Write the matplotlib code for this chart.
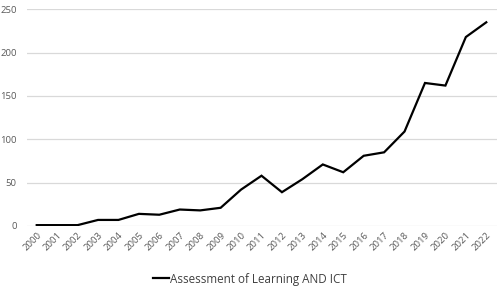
import matplotlib
matplotlib.use("Agg")
import matplotlib.pyplot as plt

# ── Data ──────────────────────────────────────────────────────────────────────
years = [str(y) for y in range(2000, 2023)]
counts = [1, 1, 1, 7, 7, 14, 13, 19, 18, 21, 42, 58, 39, 54, 71, 62,
          81, 85, 109, 165, 162, 218, 235]
series_name = "Assessment of Learning AND ICT"

TXT = "#595959"
LEG_TXT = "#404040"
GRID = "#d9d9d9"

plt.rcParams["font.family"] = ["Open Sans", "DejaVu Sans"]

fig = plt.figure(figsize=(5.0, 2.86), dpi=100)
ax = fig.add_axes([0.053, 0.2098, 0.940, 0.7577])

x = list(range(len(years)))
ax.plot(x, counts, color="black", lw=1.6, label=series_name,
        solid_joinstyle="miter", zorder=3)

ax.set_xlim(-0.5, len(years) - 0.5)
ax.set_ylim(0, 250)
ax.set_yticks(range(0, 251, 50))
ax.set_xticks(x)
ax.set_xticklabels(years, rotation=45, ha="right", rotation_mode="anchor")
ax.tick_params(axis="both", length=0, colors=TXT, labelsize=6.8)
ax.tick_params(axis="y", pad=7)
ax.tick_params(axis="x", pad=3)

ax.grid(axis="y", color=GRID, lw=0.9)
ax.set_axisbelow(True)
for s in ax.spines.values():
    s.set_visible(False)

fig.legend(loc="lower center", bbox_to_anchor=(0.5, -0.035), frameon=False,
           fontsize=8.4, handlelength=1.4, handletextpad=0.05,
           labelcolor=LEG_TXT)

fig.savefig("out.png", dpi=100, facecolor="white")
